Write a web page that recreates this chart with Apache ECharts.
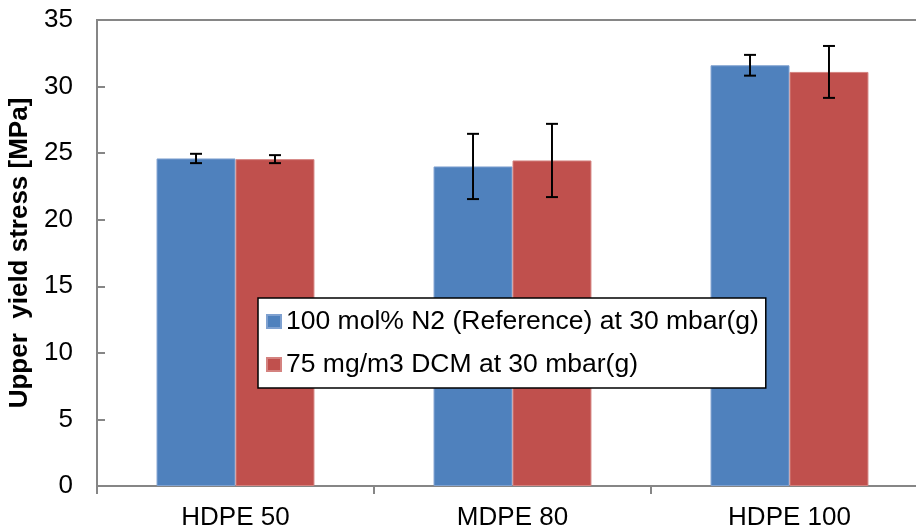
<!DOCTYPE html>
<html>
<head>
<meta charset="utf-8">
<script src="https://cdn.jsdelivr.net/npm/echarts@6/dist/echarts.min.js"></script>
<style>
  html, body { margin: 0; padding: 0; background: #fff; }
  #chart { width: 916px; height: 531px; }
</style>
</head>
<body>
<div id="chart"></div>
<script>
// Material grades on the category axis
const categories = ['HDPE 50', 'MDPE 80', 'HDPE 100'];

// Mean upper yield stress (MPa) and standard deviations for each test gas
const seriesNames = ['100 mol% N2 (Reference) at 30 mbar(g)', '75 mg/m3 DCM at 30 mbar(g)'];
const n2Values = [24.6, 24.0, 31.6];
const n2Errors = [0.35, 2.45, 0.78];
const dcmValues = [24.55, 24.45, 31.1];
const dcmErrors = [0.3, 2.75, 1.95];

// Y axis range and step
const yMin = 0;
const yMax = 35;
const yStep = 5;

const BAR_FRACTION = 0.285; // bar width as a share of the category band
const FONT = '"Liberation Sans", Arial, sans-serif';
const FONT_SIZE = 26;

const chart = echarts.init(document.getElementById('chart'), null, { renderer: 'canvas' });

// Error bar drawn with caps, shifted to sit over its own bar in the group
function errorBarSeries(name, values, errors, side) {
  return {
    type: 'custom',
    name: name + ' error',
    z: 10,
    silent: true,
    data: values.map((v, i) => [i, v - errors[i], v + errors[i]]),
    renderItem: function (params, api) {
      const band = api.size([1, 0])[0];
      const offset = side * band * BAR_FRACTION / 2;
      const lo = api.coord([api.value(0), api.value(1)]);
      const hi = api.coord([api.value(0), api.value(2)]);
      const x = lo[0] + offset;
      const cap = 6;
      const style = { stroke: '#000', lineWidth: 2 };
      return {
        type: 'group',
        children: [
          { type: 'line', shape: { x1: x, y1: lo[1], x2: x, y2: hi[1] }, style: style },
          { type: 'line', shape: { x1: x - cap, y1: lo[1], x2: x + cap, y2: lo[1] }, style: style },
          { type: 'line', shape: { x1: x - cap, y1: hi[1], x2: x + cap, y2: hi[1] }, style: style }
        ]
      };
    }
  };
}

const option = {
  animation: false,
  backgroundColor: '#fff',
  textStyle: { fontFamily: FONT },
  grid: {
    left: 97, top: 20, width: 831, height: 466,
    outerBoundsMode: 'none',
    containLabel: false,
    show: true, borderColor: '#868686', borderWidth: 2, backgroundColor: 'transparent'
  },
  legend: {
    data: seriesNames,
    orient: 'vertical',
    left: 258, top: 298,
    backgroundColor: '#fff',
    borderColor: '#000',
    borderWidth: 1.5,
    borderRadius: 0,
    padding: [10, 7, 10, 8],
    itemGap: 16,
    itemWidth: 14, itemHeight: 13,
    icon: 'rect',
    textStyle: { fontFamily: FONT, fontSize: 26.5, color: '#000' }
  },
  xAxis: {
    type: 'category',
    data: categories,
    boundaryGap: true,
    axisLine: { lineStyle: { color: '#868686', width: 2 } },
    axisTick: { show: true, length: 8, inside: false, lineStyle: { color: '#868686', width: 2 } },
    axisLabel: { color: '#000', fontSize: FONT_SIZE, fontFamily: FONT, margin: 19 }
  },
  yAxis: {
    type: 'value',
    min: yMin, max: yMax, interval: yStep,
    name: 'Upper  yield stress [MPa]',
    nameLocation: 'middle',
    nameRotate: 90,
    nameGap: 59,
    nameTextStyle: { color: '#000', fontSize: FONT_SIZE, fontWeight: 'bold', fontFamily: FONT },
    splitLine: { show: false },
    axisLine: { show: true, lineStyle: { color: '#868686', width: 2 } },
    axisTick: { show: true, inside: true, length: 8, lineStyle: { color: '#868686', width: 2 } },
    axisLabel: { color: '#000', fontSize: FONT_SIZE, fontFamily: FONT, margin: 24 }
  },
  series: [
    {
      type: 'bar',
      name: seriesNames[0],
      data: n2Values,
      barWidth: (BAR_FRACTION * 100) + '%',
      barGap: '0%',
      itemStyle: { color: '#4F81BD', borderColor: '#7FA1D0', borderWidth: 1 }
    },
    {
      type: 'bar',
      name: seriesNames[1],
      data: dcmValues,
      barWidth: (BAR_FRACTION * 100) + '%',
      barGap: '0%',
      itemStyle: { color: '#C0504D', borderColor: '#D4827F', borderWidth: 1 }
    },
    errorBarSeries(seriesNames[0], n2Values, n2Errors, -1),
    errorBarSeries(seriesNames[1], dcmValues, dcmErrors, 1)
  ]
};

chart.setOption(option);
</script>
</body>
</html>
